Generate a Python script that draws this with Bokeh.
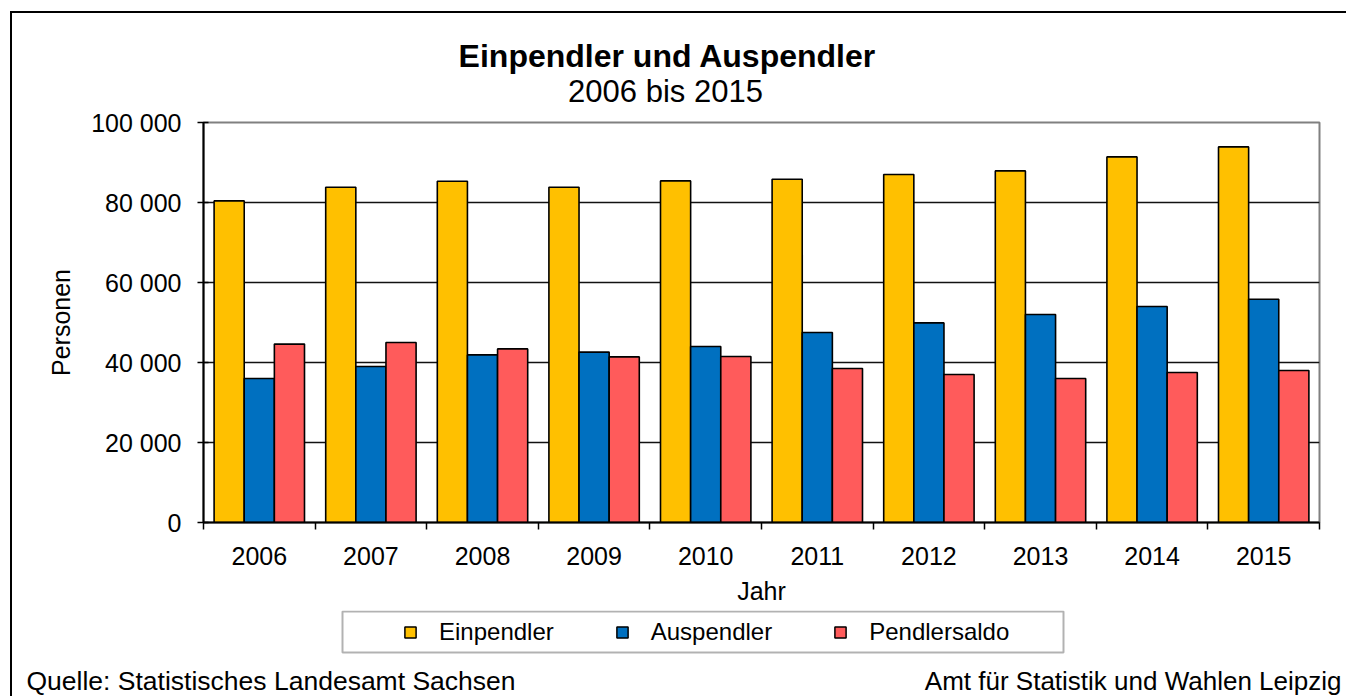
from bokeh.plotting import figure
from bokeh.models import (ColumnDataSource, FixedTicker, Label, Legend, LegendItem,
                          BoxAnnotation, Range1d)
from bokeh.transform import dodge
from bokeh.embed import file_html
from bokeh.resources import INLINE

years = ["2006", "2007", "2008", "2009", "2010", "2011", "2012", "2013", "2014", "2015"]
einpendler = [80400, 83800, 85300, 83800, 85400, 85800, 87000, 87900, 91400, 93900]
auspendler = [36000, 39000, 41900, 42600, 44000, 47500, 49900, 52000, 54000, 55800]
pendlersaldo = [44600, 45000, 43400, 41400, 41500, 38500, 37000, 36000, 37500, 38000]
series_names = ["Einpendler", "Auspendler", "Pendlersaldo"]
colors = ["#FFC000", "#0070C0", "#FF5B5B"]
y_ticks = [0, 20000, 40000, 60000, 80000, 100000]

FONT = "Liberation Sans"
W = 1336
SIDE = {"margin-left": "10px", "border-left": "2px solid black"}


def blank_fig(h, styles):
    f = figure(width=W, height=h, output_backend="svg", toolbar_location=None,
               x_range=Range1d(0, W), y_range=Range1d(h, 0),
               x_axis_type=None, y_axis_type=None, min_border=0, styles=styles)
    f.outline_line_color = None
    f.xgrid.grid_line_color = None
    f.ygrid.grid_line_color = None
    f.background_fill_color = "white"
    f.border_fill_color = "white"
    return f


# ---------- header ----------
header = blank_fig(97, dict(SIDE, **{"margin-top": "11px", "border-top": "2px solid black"}))
header.add_layout(Label(x=655, y=42, text="Einpendler und Auspendler",
                        text_align="center", text_baseline="middle", text_font=FONT,
                        text_font_size="32px", text_font_style="bold", text_color="black"))
header.add_layout(Label(x=653, y=78, text="2006 bis 2015",
                        text_align="center", text_baseline="middle", text_font=FONT,
                        text_font_size="31px", text_color="black"))

# ---------- main chart ----------
centers = [i + 0.5 for i in range(len(years))]
src = ColumnDataSource(dict(x=centers, ein=einpendler, aus=auspendler, sal=pendlersaldo))

p = figure(width=W, height=502, output_backend="svg", toolbar_location=None,
           x_range=(0, len(years)), y_range=(0, 100000),
           min_border_left=191, min_border_right=29, min_border_top=14, min_border_bottom=88,
           styles=SIDE)
p.background_fill_color = "white"
p.border_fill_color = "white"
p.outline_line_color = "#808080"
p.outline_line_width = 2

w = 0.27
offs = [-w, 0.0, w]
cols = ["ein", "aus", "sal"]
for col, off, c in zip(cols, offs, colors):
    p.vbar(x=dodge("x", off, range=p.x_range), top=col, width=w, bottom=0, source=src,
           fill_color=c, line_color="black", line_width=1.6)

xa = p.xaxis[0]
xa.ticker = FixedTicker(ticks=centers, minor_ticks=list(range(len(years) + 1)))
xa.major_label_overrides = {c: y for c, y in zip(centers, years)}
xa.major_tick_out = 0
xa.major_tick_in = 0
xa.minor_tick_out = 7
xa.minor_tick_in = 0
xa.minor_tick_line_color = "black"
xa.minor_tick_line_width = 1.5
xa.axis_line_color = "black"
xa.axis_line_width = 2
xa.major_label_text_font = FONT
xa.major_label_text_font_size = "25px"
xa.major_label_text_color = "black"
xa.major_label_standoff = 17
xa.axis_label = "Jahr"
xa.axis_label_text_font = FONT
xa.axis_label_text_font_size = "25px"
xa.axis_label_text_font_style = "normal"
xa.axis_label_text_color = "black"
xa.axis_label_standoff = 9

ya = p.yaxis[0]
ya.ticker = FixedTicker(ticks=y_ticks, minor_ticks=[])
ya.major_label_overrides = {v: f"{v:,}".replace(",", " ") for v in y_ticks}
ya.major_tick_out = 6
ya.major_tick_in = 5
ya.major_tick_line_width = 1.5
ya.major_tick_line_color = "black"
ya.axis_line_color = "black"
ya.axis_line_width = 2
ya.major_label_text_font = FONT
ya.major_label_text_font_size = "25px"
ya.major_label_text_color = "black"
ya.major_label_standoff = 16
ya.axis_label = "Personen"
ya.axis_label_text_font = FONT
ya.axis_label_text_font_size = "25px"
ya.axis_label_text_font_style = "normal"
ya.axis_label_text_color = "black"
ya.axis_label_standoff = 13

p.xgrid.grid_line_color = None
p.ygrid.grid_line_color = "#111111"
p.ygrid.grid_line_width = 1.5

# ---------- legend + footer ----------
footer = blank_fig(86, SIDE)
legend_renderers = []
for col, c in zip(cols, colors):
    # hidden proxies of the series, only used for the legend swatches
    r = footer.vbar(x="x", top=col, width=w, source=src, fill_color=c,
                    line_color="black", line_width=1.5, visible=False)
    legend_renderers.append(r)

footer.add_layout(BoxAnnotation(left=330, right=1051, top=1, bottom=42,
                                fill_color="white", fill_alpha=1,
                                line_color="black", line_width=2))
legend = Legend(items=[LegendItem(label=n, renderers=[r]) for n, r in zip(series_names, legend_renderers)],
                orientation="horizontal", location=(391, 50), padding=0, margin=0,
                spacing=61, label_standoff=22, glyph_width=14, glyph_height=14,
                label_text_font=FONT, label_text_font_size="24px", label_text_color="black",
                background_fill_alpha=0, border_line_alpha=0,
                inactive_fill_alpha=0)
footer.add_layout(legend, "center")

footer.add_layout(Label(x=14, y=70, text="Quelle: Statistisches Landesamt Sachsen",
                        text_align="left", text_baseline="middle", text_font=FONT,
                        text_font_size="26.5px", text_color="black"))
footer.add_layout(Label(x=1329, y=70, text="Amt für Statistik und Wahlen Leipzig",
                        text_align="right", text_baseline="middle", text_font=FONT,
                        text_font_size="26px", text_color="black"))

open("out.html", "w").write(file_html([header, p, footer], INLINE))
